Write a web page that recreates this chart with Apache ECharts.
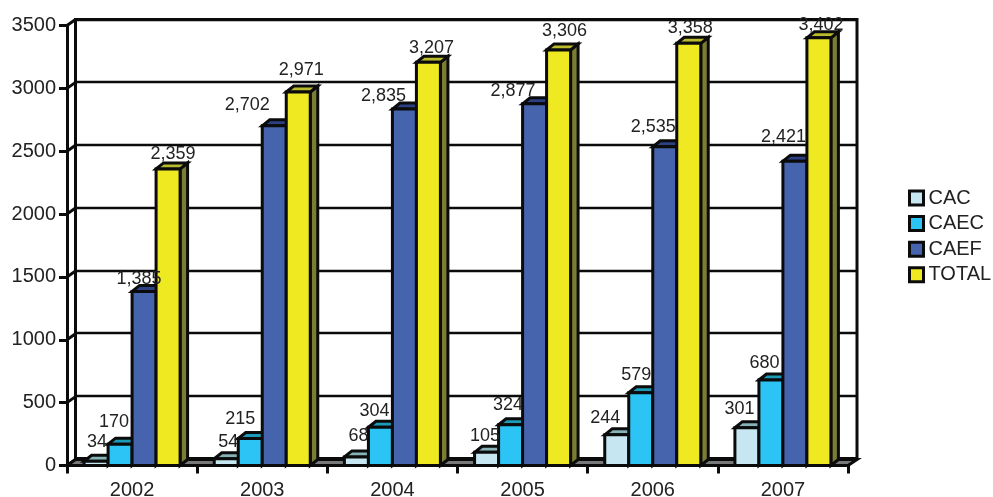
<!DOCTYPE html>
<html><head><meta charset="utf-8">
<style>html,body{margin:0;padding:0;background:#fff}#c{width:993px;height:497px}</style>
<script src="https://cdn.jsdelivr.net/npm/echarts@6/dist/echarts.min.js"></script>
</head><body><div id="c"></div>
<script>
const years = ['2002','2003','2004','2005','2006','2007'];
const CAC   = [34,54,68,105,244,301];
const CAEC  = [170,215,304,324,579,680];
const CAEF  = [1385,2702,2835,2877,2535,2421];
const TOTAL = [2359,2971,3207,3306,3358,3402];
const yTicks = [0,500,1000,1500,2000,2500,3000,3500];

// label nudges relative to the bar's top centre (the source chart placed them by hand)
const nudgeCAC   = [[1,-19],[2,-17],[2,-21],[-1.5,-16],[-11.5,-17],[-7.5,-19]];
const nudgeCAEC  = [[-6,-22],[-10,-19.5],[-6,-16],[-2.5,-20],[-4.5,-18],[-6.5,-17]];
const nudgeCAEF  = [[-5,-12],[-27,-21],[-21,-13],[-21.5,-13],[-11.5,-20],[-11.5,-24]];
const nudgeTOTAL = [[5,-15],[3,-22],[3,-14],[6,-19],[1.5,-15],[2,-13]];

const FONT = '"Liberation Sans", Arial, sans-serif';
const INK = '#0b0b0b';
const TXT = '#222';
const DX = 7.5, DY = 6, BAR = 24, LW = 3;

function fmt(v){ return String(v).replace(/\B(?=(\d{3})+$)/g, ','); }

function barSeries(name, values, nudges, slot, front, top, side){
  return {
    name, type:'custom', xAxisIndex:0, yAxisIndex:0, clip:false,
    itemStyle:{color:front},
    data: values.map((v,i)=>[i,v]),
    renderItem(params, api){
      const i = api.value(0), v = api.value(1);
      const p = api.coord([i,v]), o = api.coord([i,0]);
      const x0 = o[0] + (slot-2)*BAR, x1 = x0+BAR, yt = p[1], yb = o[1];
      const st = {stroke:INK, lineWidth:LW, lineJoin:'miter'};
      const n = nudges[i];
      return {type:'group', children:[
        {type:'polygon', shape:{points:[[x1,yb],[x1+DX,yb-DY],[x1+DX,yt-DY],[x1,yt]]}, style:{fill:side,...st}},
        {type:'polygon', shape:{points:[[x0,yt],[x0+DX,yt-DY],[x1+DX,yt-DY],[x1,yt]]}, style:{fill:top,...st}},
        {type:'rect', shape:{x:x0,y:yt,width:BAR,height:yb-yt}, style:{fill:front,...st}},
        {type:'text', z2:100, style:{text:fmt(v), x:x0+BAR/2+n[0], y:yt+n[1], align:'center', verticalAlign:'middle',
          font:'18px '+FONT, fill:TXT}}
      ]};
    }
  };
}

const option = {
  animation:false,
  backgroundColor:'#fff',
  legend:{
    orient:'vertical', left:903, top:181.5, itemWidth:14, itemHeight:14, itemGap:2.6, icon:'rect',
    textStyle:{fontFamily:FONT, fontSize:20, color:TXT, lineHeight:23},
    itemStyle:{borderColor:INK, borderWidth:3},
    data:['CAC','CAEC','CAEF','TOTAL']
  },
  grid:[
    {left:67, right:145, top:25.5, bottom:31.5, outerBoundsMode:'none'},
    {left:75.5, right:136, top:19.5, bottom:38.5, outerBoundsMode:'none', show:true, borderColor:INK, borderWidth:3, backgroundColor:'#fff', z:0}
  ],
  xAxis:[
    {type:'category', gridIndex:0, data:years, boundaryGap:true, z:5,
     axisLine:{lineStyle:{color:INK,width:LW}},
     axisTick:{show:true, alignWithLabel:false, length:8, lineStyle:{color:INK,width:LW}},
     axisLabel:{fontFamily:FONT, fontSize:20, color:TXT, margin:15, interval:0}},
    {type:'category', gridIndex:1, data:years, show:false}
  ],
  yAxis:[
    {type:'value', gridIndex:0, min:0, max:3500, interval:500, z:5,
     axisLine:{show:true, lineStyle:{color:INK,width:LW}},
     axisTick:{show:true, length:8, lineStyle:{color:INK,width:LW}},
     axisLabel:{fontFamily:FONT, fontSize:20, color:TXT, margin:11, formatter:v=>String(v)},
     splitLine:{show:false}},
    {type:'value', gridIndex:1, min:0, max:3500, interval:500,
     axisLine:{show:false}, axisTick:{show:false}, axisLabel:{show:false},
     splitLine:{show:true, lineStyle:{color:INK,width:2.4}}}
  ],
  series:[
    {type:'custom', name:'wall', xAxisIndex:0, yAxisIndex:0, clip:false, silent:true,
     data: yTicks.map(t=>[0,t]),
     renderItem(params, api){
       const y = api.coord([0,api.value(1)])[1], x = params.coordSys.x;
       return {type:'line', shape:{x1:x,y1:y,x2:x+8.5,y2:y-6}, style:{stroke:INK,lineWidth:LW}};
     }},
    {type:'custom', name:'floor', xAxisIndex:0, yAxisIndex:0, clip:false, silent:true,
     data:[[0,0]],
     renderItem(params, api){
       const y = api.coord([0,0])[1], c = params.coordSys, x0=c.x, x1=c.x+c.width;
       return {type:'polygon', shape:{points:[[x0,y],[x0+8.5,y-6],[x1+9,y-6],[x1,y]]},
         style:{fill:'#77787a',stroke:INK,lineWidth:LW}};
     }},
    barSeries('CAC',CAC,nudgeCAC,0,'#c6e7f1','#86b3b8','#7da3a8'),
    barSeries('CAEC',CAEC,nudgeCAEC,1,'#2cc4f4','#1d9ab8','#1d8aa8'),
    barSeries('CAEF',CAEF,nudgeCAEF,2,'#4564ad','#2c4184','#2c3d78'),
    barSeries('TOTAL',TOTAL,nudgeTOTAL,3,'#efe922','#b9ba2c','#7a7d32')
  ]
};
const chart = echarts.init(document.getElementById('c'), null, {renderer:'canvas'});
chart.setOption(option);
</script></body></html>
